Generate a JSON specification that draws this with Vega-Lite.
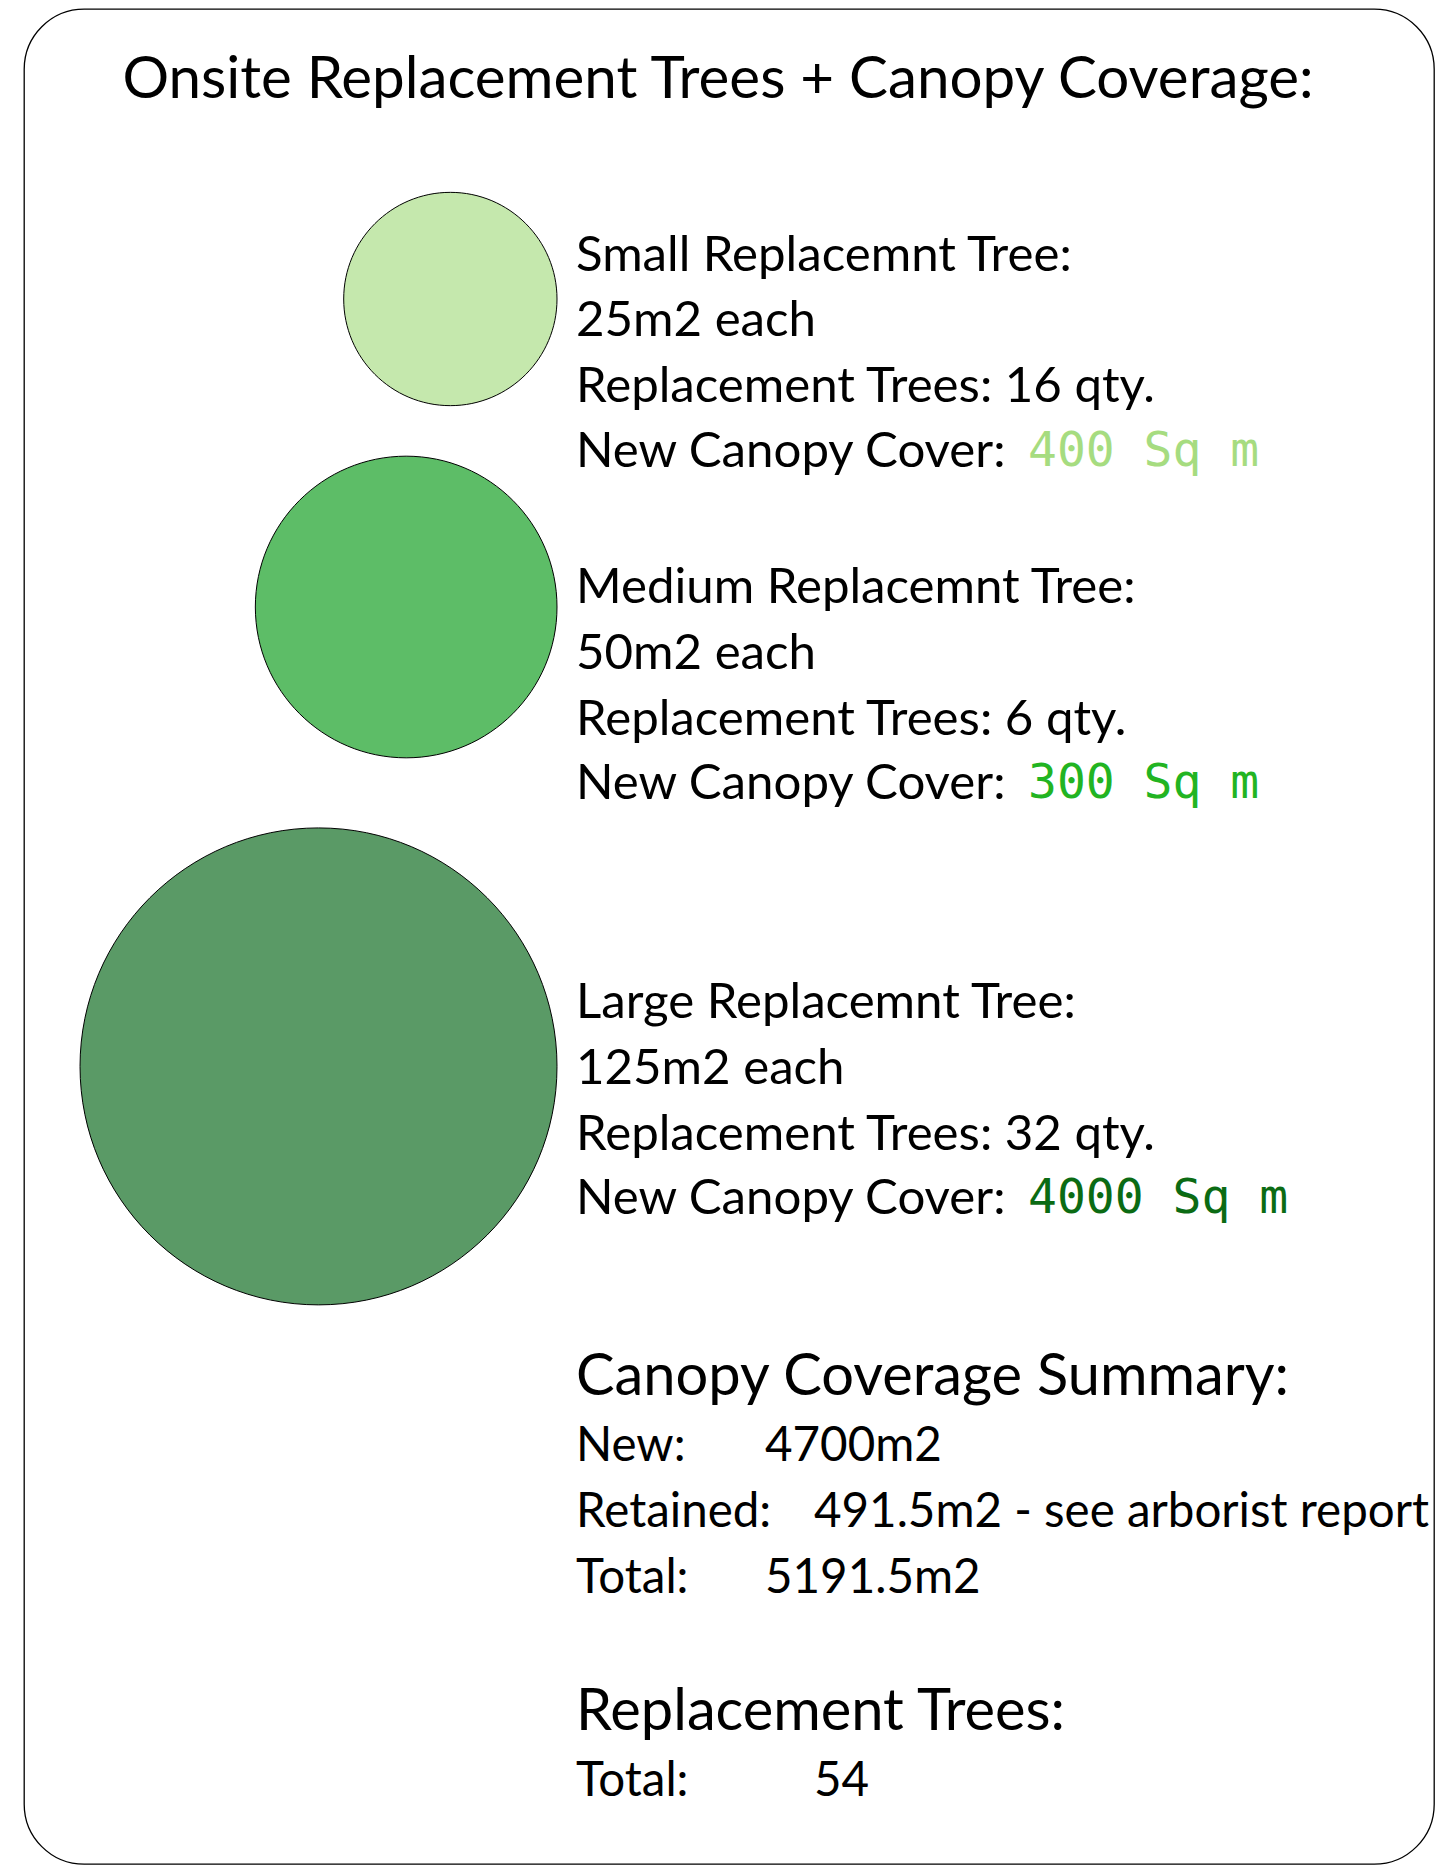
{
  "$schema": "https://vega.github.io/schema/vega-lite/v6.json",
  "width": 1410,
  "height": 1855,
  "autosize": {"type": "none"},
  "padding": {"left": 24, "top": 9, "right": 5, "bottom": 11},
  "background": "#ffffff",
  "config": {
    "view": {"stroke": "#000000", "strokeWidth": 1.3, "cornerRadius": 60, "fill": "#ffffff"},
    "axis": {"disable": true},
    "legend": {"disable": true}
  },
  "datasets": {
    "trees": [
      {"tree": "Small", "each_m2": 25, "qty": 16, "cover_m2": 400, "slot": 2, "col": 0},
      {"tree": "Medium", "each_m2": 50, "qty": 6, "cover_m2": 300, "slot": 7, "col": 0},
      {"tree": "Large", "each_m2": 125, "qty": 32, "cover_m2": 4000, "slot": 12, "col": 0}
    ],
    "lines": [
      {"role": "title", "slot": 0, "col": 2, "text": "Onsite Replacement Trees + Canopy Coverage:"},
      {"role": "body", "slot": 1, "col": 1, "text": "Small Replacemnt Tree:"},
      {"role": "body", "slot": 3, "col": 1, "text": "25m2 each"},
      {"role": "body", "slot": 4, "col": 1, "text": "Replacement Trees: 16 qty."},
      {"role": "body", "slot": 5, "col": 1, "text": "New Canopy Cover:"},
      {"role": "cover", "slot": 5, "col": 5, "tree": "Small", "text": "400 Sq m"},
      {"role": "body", "slot": 6, "col": 1, "text": "Medium Replacemnt Tree:"},
      {"role": "body", "slot": 8, "col": 1, "text": "50m2 each"},
      {"role": "body", "slot": 9, "col": 1, "text": "Replacement Trees: 6 qty."},
      {"role": "body", "slot": 10, "col": 1, "text": "New Canopy Cover:"},
      {"role": "cover", "slot": 10, "col": 5, "tree": "Medium", "text": "300 Sq m"},
      {"role": "body", "slot": 11, "col": 1, "text": "Large Replacemnt Tree:"},
      {"role": "body", "slot": 13, "col": 1, "text": "125m2 each"},
      {"role": "body", "slot": 14, "col": 1, "text": "Replacement Trees: 32 qty."},
      {"role": "body", "slot": 15, "col": 1, "text": "New Canopy Cover:"},
      {"role": "coverBold", "slot": 15, "col": 5, "tree": "Large", "text": "4000 Sq m"},
      {"role": "heading", "slot": 16, "col": 1, "text": "Canopy Coverage Summary:"},
      {"role": "summary", "slot": 17, "col": 1, "text": "New:"},
      {"role": "summary", "slot": 17, "col": 3, "text": "4700m2"},
      {"role": "summary", "slot": 18, "col": 1, "text": "Retained:"},
      {"role": "summary", "slot": 18, "col": 4, "text": "491.5m2 - see arborist report"},
      {"role": "summary", "slot": 19, "col": 1, "text": "Total:"},
      {"role": "summary", "slot": 19, "col": 3, "text": "5191.5m2"},
      {"role": "heading", "slot": 20, "col": 1, "text": "Replacement Trees:"},
      {"role": "summary", "slot": 21, "col": 1, "text": "Total:"},
      {"role": "summary", "slot": 21, "col": 4, "text": "54"}
    ]
  },
  "encoding": {
    "x": {"field": "col", "type": "quantitative", "axis": null,
      "scale": {"domain": [0, 1, 2, 3, 4, 5], "range": [533, 552, 694, 741, 790, 1004], "nice": false, "zero": false}},
    "y": {"field": "slot", "type": "quantitative", "axis": null,
      "scale": {"domain": [0, 1, 2, 3, 4, 5, 6, 7, 8, 9, 10, 11, 12, 13, 14, 15, 16, 17, 18, 19, 20, 21],
        "range": [72, 246.5, 290, 312.3, 378.1, 442.7, 579, 598, 644.8, 710.6, 775.2, 994.1, 1057.4, 1059.9, 1125.7, 1190.3, 1369, 1438.4, 1504.2, 1570, 1704, 1773.3],
        "nice": false, "zero": false}}
  },
  "layer": [
    {
      "data": {"name": "trees"},
      "mark": {
        "type": "point",
        "filled": true,
        "opacity": 1,
        "stroke": "#000000",
        "strokeWidth": 1,
        "shape": "M0,0C0,0.5523,-0.4477,1,-1,1C-1.5523,1,-2,0.5523,-2,0C-2,-0.5523,-1.5523,-1,-1,-1C-0.4477,-1,0,-0.5523,0,0Z"
      },
      "encoding": {
        "fill": {"field": "tree", "type": "nominal", "legend": null,
          "scale": {"domain": ["Small", "Medium", "Large"], "range": ["#c5e8ad", "#5dbd67", "#5a9a66"]}},
        "size": {"field": "each_m2", "type": "quantitative", "legend": null,
          "scale": {"type": "linear", "domain": [0, 125], "range": [0, 227500], "zero": true}}
      }
    },
    {
      "data": {"name": "lines"},
      "transform": [{"filter": "datum.role === 'title'"}],
      "mark": {"type": "text", "font": "Lato", "fontSize": 58.3, "align": "center", "baseline": "middle", "color": "#000000"},
      "encoding": {"text": {"field": "text"}}
    },
    {
      "data": {"name": "lines"},
      "transform": [{"filter": "datum.role === 'body'"}],
      "mark": {"type": "text", "font": "Lato", "fontSize": 49.2, "align": "left", "baseline": "middle", "color": "#000000"},
      "encoding": {"text": {"field": "text"}}
    },
    {
      "data": {"name": "lines"},
      "transform": [{"filter": "datum.role === 'summary'"}],
      "mark": {"type": "text", "font": "Lato", "fontSize": 47.5, "align": "left", "baseline": "middle", "color": "#000000"},
      "encoding": {"text": {"field": "text"}}
    },
    {
      "data": {"name": "lines"},
      "transform": [{"filter": "datum.role === 'heading'"}],
      "mark": {"type": "text", "font": "Lato", "fontSize": 57.8, "align": "left", "baseline": "middle", "color": "#000000"},
      "encoding": {"text": {"field": "text"}}
    },
    {
      "data": {"name": "lines"},
      "transform": [{"filter": "datum.role === 'cover' || datum.role === 'coverBold'"}],
      "mark": {"type": "text", "font": "DejaVu Sans Mono", "fontSize": 48, "align": "left", "baseline": "middle"},
      "encoding": {
        "text": {"field": "text"},
        "fontWeight": {"condition": {"test": "datum.role === 'coverBold'", "value": "bold"}, "value": "normal"},
        "color": {"field": "tree", "type": "nominal", "legend": null,
          "scale": {"domain": ["Small", "Medium", "Large"], "range": ["#a6dc80", "#22b422", "#0b6b14"]}}
      }
    }
  ]
}
